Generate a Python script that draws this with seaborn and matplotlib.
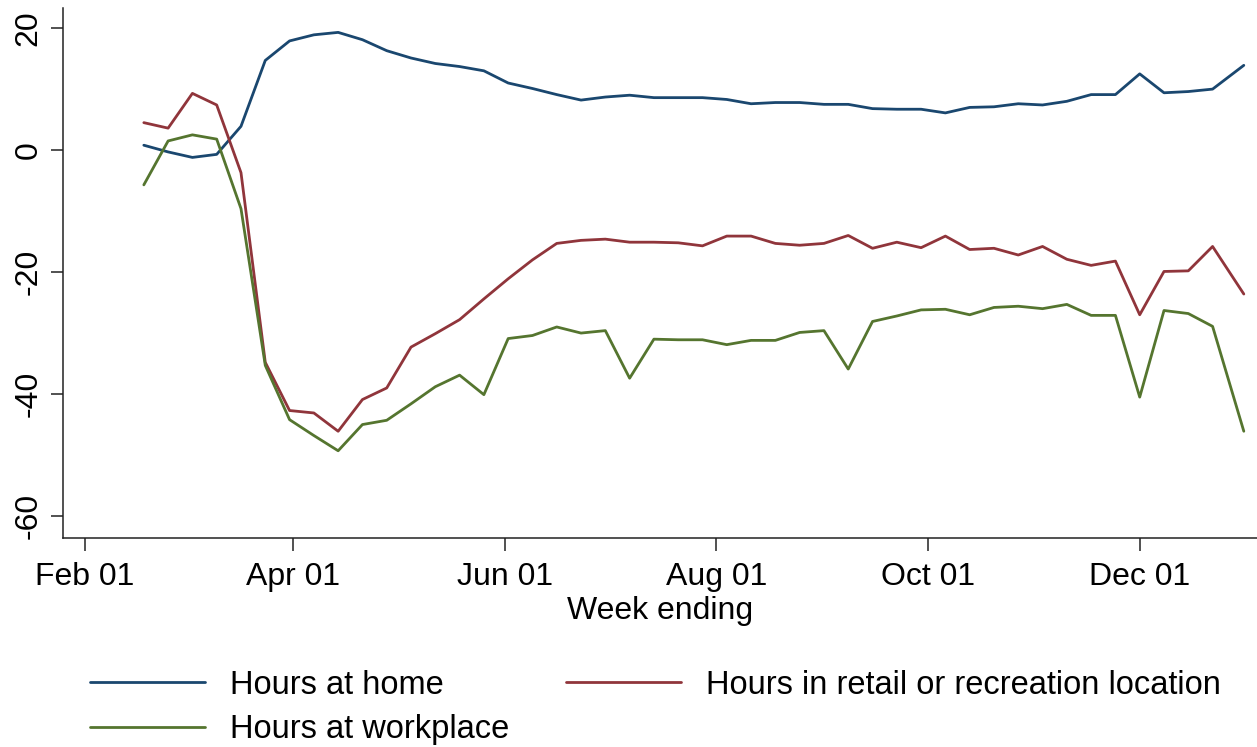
import pandas as pd
import matplotlib.pyplot as plt
import matplotlib.dates as mdates
import seaborn as sns

# week ending dates (Tuesdays, last point is end of year)
week_ending = ["2020-02-18", "2020-02-25", "2020-03-03", "2020-03-10", "2020-03-17",
               "2020-03-24", "2020-03-31", "2020-04-07", "2020-04-14", "2020-04-21",
               "2020-04-28", "2020-05-05", "2020-05-12", "2020-05-19", "2020-05-26",
               "2020-06-02", "2020-06-09", "2020-06-16", "2020-06-23", "2020-06-30",
               "2020-07-07", "2020-07-14", "2020-07-21", "2020-07-28", "2020-08-04",
               "2020-08-11", "2020-08-18", "2020-08-25", "2020-09-01", "2020-09-08",
               "2020-09-15", "2020-09-22", "2020-09-29", "2020-10-06", "2020-10-13",
               "2020-10-20", "2020-10-27", "2020-11-03", "2020-11-10", "2020-11-17",
               "2020-11-24", "2020-12-01", "2020-12-08", "2020-12-15", "2020-12-22",
               "2020-12-31"]

home = [0.8, -0.3, -1.2, -0.7, 3.9, 14.7, 17.9, 18.9, 19.3, 18.1,
        16.3, 15.1, 14.2, 13.7, 13.0, 11.0, 10.1, 9.1, 8.2, 8.7,
        9.0, 8.6, 8.6, 8.6, 8.3, 7.6, 7.8, 7.8, 7.5, 7.5,
        6.8, 6.7, 6.7, 6.1, 7.0, 7.1, 7.6, 7.4, 8.0, 9.1,
        9.1, 12.5, 9.4, 9.6, 10.0, 13.9]

retail = [4.5, 3.6, 9.3, 7.4, -3.7, -34.8, -42.7, -43.1, -46.1, -40.9,
          -39.0, -32.3, -30.1, -27.8, -24.4, -21.1, -18.0, -15.3, -14.8, -14.6,
          -15.1, -15.1, -15.2, -15.7, -14.1, -14.1, -15.3, -15.6, -15.3, -14.0,
          -16.1, -15.1, -16.0, -14.1, -16.3, -16.1, -17.2, -15.8, -17.9, -18.9,
          -18.2, -27.0, -19.9, -19.8, -15.8, -23.6]

workplace = [-5.7, 1.5, 2.5, 1.8, -9.6, -35.3, -44.2, -46.8, -49.3, -45.0,
             -44.3, -41.6, -38.8, -36.9, -40.1, -30.9, -30.4, -29.0, -30.0, -29.6,
             -37.4, -31.0, -31.1, -31.1, -31.9, -31.2, -31.2, -29.9, -29.6, -35.9,
             -28.1, -27.2, -26.2, -26.1, -27.0, -25.8, -25.6, -26.0, -25.3, -27.1,
             -27.1, -40.5, -26.3, -26.8, -28.9, -46.1]

series_names = ["Hours at home", "Hours in retail or recreation location", "Hours at workplace"]
colors = {"Hours at home": "#1a476f",
          "Hours in retail or recreation location": "#90353b",
          "Hours at workplace": "#55752f"}

df = pd.DataFrame({"week": pd.to_datetime(week_ending),
                   series_names[0]: home,
                   series_names[1]: retail,
                   series_names[2]: workplace})
long_df = df.melt(id_vars="week", var_name="series", value_name="change")

sns.set_style("ticks")
plt.rcParams["font.family"] = ["Liberation Sans", "DejaVu Sans"]
plt.rcParams["axes.unicode_minus"] = False
plt.rcParams["text.color"] = "black"
plt.rcParams["axes.labelcolor"] = "black"
plt.rcParams["xtick.color"] = "black"
plt.rcParams["ytick.color"] = "black"

fig = plt.figure(figsize=(12.57, 7.47), dpi=100)
ax = fig.add_axes([0.0501, 0.2798, 0.9499, 0.7095])

sns.lineplot(data=long_df, x="week", y="change", hue="series", hue_order=series_names,
             palette=colors, linewidth=2.0, ax=ax, legend=False)

ax.set_ylim(-63.6, 23.3)
ax.set_xlim(pd.Timestamp("2020-02-01") - pd.Timedelta(days=6.3),
            pd.Timestamp("2020-02-01") + pd.Timedelta(days=337.8))
ax.set_yticks([20, 0, -20, -40, -60])
tick_dates = pd.to_datetime(["2020-02-01", "2020-04-01", "2020-06-01",
                             "2020-08-01", "2020-10-01", "2020-12-01"])
ax.set_xticks(tick_dates)
ax.xaxis.set_major_formatter(mdates.DateFormatter("%b %d"))
ax.tick_params(axis="both", direction="out", length=9, width=1.1, labelsize=23,
               color="#222222")
ax.tick_params(axis="x", pad=8)
ax.tick_params(axis="y", labelrotation=90, pad=5)
for lab in ax.get_yticklabels():
    lab.set_va("center")

ax.set_xlabel("Week ending", fontsize=23, labelpad=3)
ax.set_ylabel("")
sns.despine(ax=ax)
for side in ["left", "bottom"]:
    ax.spines[side].set_linewidth(1.1)
    ax.spines[side].set_color("#222222")

lines = ax.get_lines()
order = [0, 2, 1]
leg = fig.legend([lines[i] for i in order], [series_names[i] for i in order],
                 loc="upper left", bbox_to_anchor=(0.0716, 0.1036), ncol=2, frameon=False,
                 fontsize=23.5, handlelength=3.52, handletextpad=0.77, columnspacing=1.75,
                 labelspacing=0.41, borderpad=0, borderaxespad=0)

fig.savefig("out.png", dpi=100, facecolor="white")
